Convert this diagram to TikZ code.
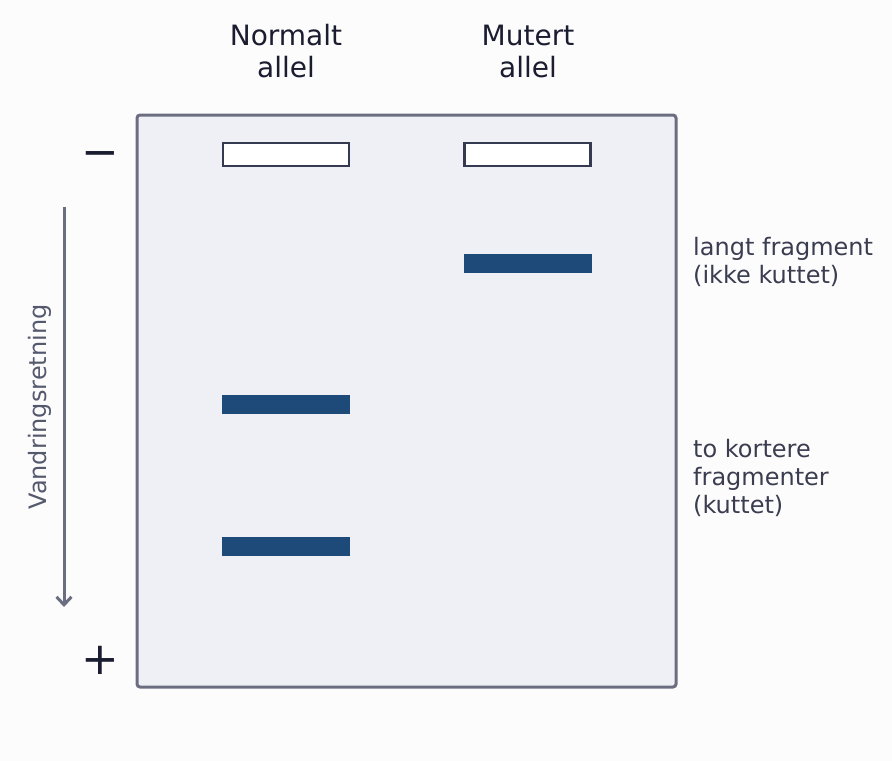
\documentclass[tikz,border=0pt]{standalone}
\usepackage{fontspec}
\setmainfont{DejaVu Sans}
\usetikzlibrary{arrows.meta}
\definecolor{bgwhite}{HTML}{FDFCFC}
\definecolor{gelfill}{HTML}{EEF0F6}
\definecolor{gelline}{HTML}{6B6E80}
\definecolor{wellline}{HTML}{363A50}
\definecolor{bandblue}{HTML}{1E4A7A}
\definecolor{titletext}{HTML}{1A1C30}
\definecolor{sidetext}{HTML}{3A3D50}
\definecolor{dirtext}{HTML}{55596E}
\tikzset{
 gelbox/.style={draw=gelline,line width=3pt,fill=gelfill,rounded corners=3pt,inner sep=0pt,minimum width=539pt,minimum height=572pt},
 well/.style={draw=wellline,line width=2.6pt,fill=white,inner sep=0pt,minimum width=126pt,minimum height=23pt},
 band/.style={fill=bandblue,inner sep=0pt,minimum width=128pt,minimum height=19pt},
 lanetitle/.style={text=titletext,align=center,font=\fontsize{28}{32}\selectfont},
 sidenote/.style={text=sidetext,align=left,anchor=west,inner sep=0pt,font=\fontsize{24}{28}\selectfont},
 pole/.style={text=titletext,inner sep=0pt,font=\fontsize{45}{45}\selectfont}
}
\begin{document}
\begin{tikzpicture}[x=1pt,y=-1pt]
 \fill[bgwhite] (0,0) rectangle (892,761);
 \useasboundingbox (0,0) rectangle (892,761);
 % gel
 \node[gelbox] (gel) at (406.5,401) {};
 \node[well] (wellN) at (286,154.5) {};
 \node[well] (wellM) at (527.5,154.5) {};
 \node[band] (bandM) at (527.5,263.5) {};
 \node[band] (bandN1) at (286,404.5) {};
 \node[band] (bandN2) at (286,546.5) {};
 % lane titles
 \node[lanetitle] (titleN) at (286,51) {Normalt\\allel};
 \node[lanetitle] (titleM) at (528,51) {Mutert\\allel};
 % poles
 \node[pole] (minus) at (100,160) {−};
 \node[pole] (plus) at (100,660) {+};
 % direction
 \coordinate (dirtop) at (64,207);
 \coordinate (dirbot) at (64,607);
 \draw[gelline,line width=3pt,-{Straight Barb[length=8pt,width=15pt,line width=3pt]}] (dirtop) -- (dirbot);
 \node[text=dirtext,rotate=90,font=\fontsize{24}{28}\selectfont] (dirlabel) at (40,407) {Vandringsretning};
 % notes
 \node[sidenote] (longnote) at (693,262) {langt fragment\\(ikke kuttet)};
 \node[sidenote] (shortnote) at (693,478) {to kortere\\fragmenter\\(kuttet)};
\end{tikzpicture}
\end{document}
